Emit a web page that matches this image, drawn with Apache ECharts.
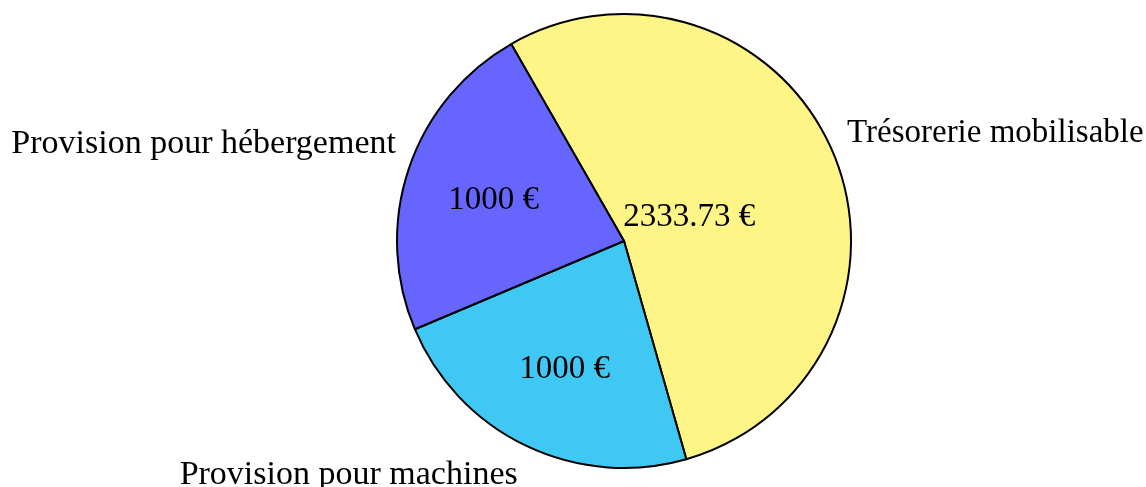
<!DOCTYPE html>
<html>
<head>
<meta charset="utf-8">
<script src="https://cdn.jsdelivr.net/npm/echarts@6/dist/echarts.min.js"></script>
<style>
  html, body { margin: 0; padding: 0; background: #fff; }
  #chart { width: 1146px; height: 487px; }
</style>
</head>
<body>
<div id="chart"></div>
<script>
// slices, in drawing order (clockwise from the top-left boundary)
var categories = ['Trésorerie mobilisable', 'Provision pour machines', 'Provision pour hébergement'];
var amounts = [2333.73, 1000, 1000];
var valueLabels = ['2333.73 €', '1000 €', '1000 €'];
var colors = ['#fff587', '#40c8f4', '#6666ff'];

// nudges for the labels so they sit like in the picture
var innerOffsets = [[-42, 22], [-9, 23], [-20, -3]];
var outerOffsets = [[264, -62], [-225, 129], [-310, -60]];
var outerSizes = [33, 34, 34];

var font = '"Liberation Serif", "DejaVu Serif", serif';

var chart = echarts.init(document.getElementById('chart'));

var pieData = categories.map(function (c, i) {
    return {
        name: c,
        value: amounts[i],
        itemStyle: { color: colors[i] },
        label: { offset: innerOffsets[i] }
    };
});
var nameData = categories.map(function (c, i) {
    return {
        name: c,
        value: amounts[i],
        label: { offset: outerOffsets[i], fontSize: outerSizes[i] }
    };
});

chart.setOption({
    animation: false,
    series: [{
        type: 'pie',
        center: [624, 241],
        radius: [0, 227],
        startAngle: 119.8,
        clockwise: true,
        silent: true,
        itemStyle: {
            borderColor: '#000',
            borderWidth: 2
        },
        label: {
            show: true,
            position: 'inner',
            formatter: function (p) { return valueLabels[p.dataIndex]; },
            color: '#000',
            fontFamily: font,
            fontSize: 33
        },
        labelLine: { show: false },
        data: pieData
    }, {
        // second copy only carries the category names outside
        type: 'pie',
        center: [624, 241],
        radius: [0, 227],
        startAngle: 119.8,
        clockwise: true,
        silent: true,
        itemStyle: { color: 'rgba(0,0,0,0)' },
        label: {
            show: true,
            position: 'inner',
            formatter: '{b}',
            color: '#000',
            fontFamily: font,
            fontSize: 34
        },
        labelLine: { show: false },
        data: nameData
    }]
});
</script>
</body>
</html>
